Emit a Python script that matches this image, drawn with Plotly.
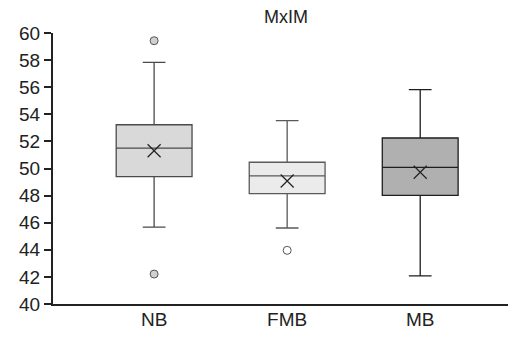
import plotly.graph_objects as go

categories = ["NB", "FMB", "MB"]
q1 = [49.4, 48.14, 48.02]
median = [51.5, 49.45, 50.09]
q3 = [53.23, 50.46, 52.25]
lowerfence = [45.68, 45.61, 42.07]
upperfence = [57.83, 53.53, 55.82]
means = [51.31, 49.08, 49.72]
outlier_cat = [0, 0, 1]
outlier_val = [59.43, 42.21, 43.96]

fills = ["#d9d9d9", "#ebebeb", "#b0b0b0"]
lines = ["#4a4a4a", "#5a5a5a", "#1e1e1e"]

fig = go.Figure()
for i, c in enumerate(categories):
    fig.add_trace(go.Box(
        x=[i], q1=[q1[i]], median=[median[i]], q3=[q3[i]],
        lowerfence=[lowerfence[i]], upperfence=[upperfence[i]],
        fillcolor=fills[i], line=dict(color=lines[i], width=1.3),
        width=0.57, whiskerwidth=0.3, boxpoints=False, showlegend=False,
        hoverinfo="skip"))

fig.add_trace(go.Scatter(
    x=list(range(len(categories))), y=means, mode="markers",
    marker=dict(symbol="x-thin", size=13, line=dict(color="#222222", width=1.2)),
    showlegend=False))

fig.add_trace(go.Scatter(
    x=outlier_cat, y=outlier_val, mode="markers",
    marker=dict(symbol="circle", size=8,
                color=["#d0d0d0" if k == 0 else "#ffffff" for k in outlier_cat],
                line=dict(color="#555555", width=1)),
    showlegend=False))

# page body has an 8px margin, so the figure is sized to fit inside the window
fig.update_layout(
    width=508, height=331,
    margin=dict(l=45, r=0, t=25, b=35),
    paper_bgcolor="white", plot_bgcolor="white",
    font=dict(family="Liberation Sans, Arial, sans-serif", color="#222222"),
    xaxis=dict(range=[-0.76, 2.72], tickvals=[0, 1, 2], ticktext=categories,
               showgrid=False, zeroline=False, showline=True, linecolor="#222222",
               linewidth=2, ticks="", tickfont=dict(size=19), ticklabelstandoff=-3,
               fixedrange=True),
    yaxis=dict(range=[40, 60], dtick=2, showgrid=False, zeroline=False,
               showline=True, linecolor="#222222", linewidth=2, ticks="outside",
               ticklen=7, tickwidth=2, tickcolor="#222222", tickfont=dict(size=19)),
    annotations=[dict(text="MxIM", xref="paper", yref="paper", x=0.503, y=1.0,
                      yshift=4, xanchor="center", yanchor="bottom", showarrow=False,
                      font=dict(size=18, color="#222222"))],
)

fig.write_html("out.html")
